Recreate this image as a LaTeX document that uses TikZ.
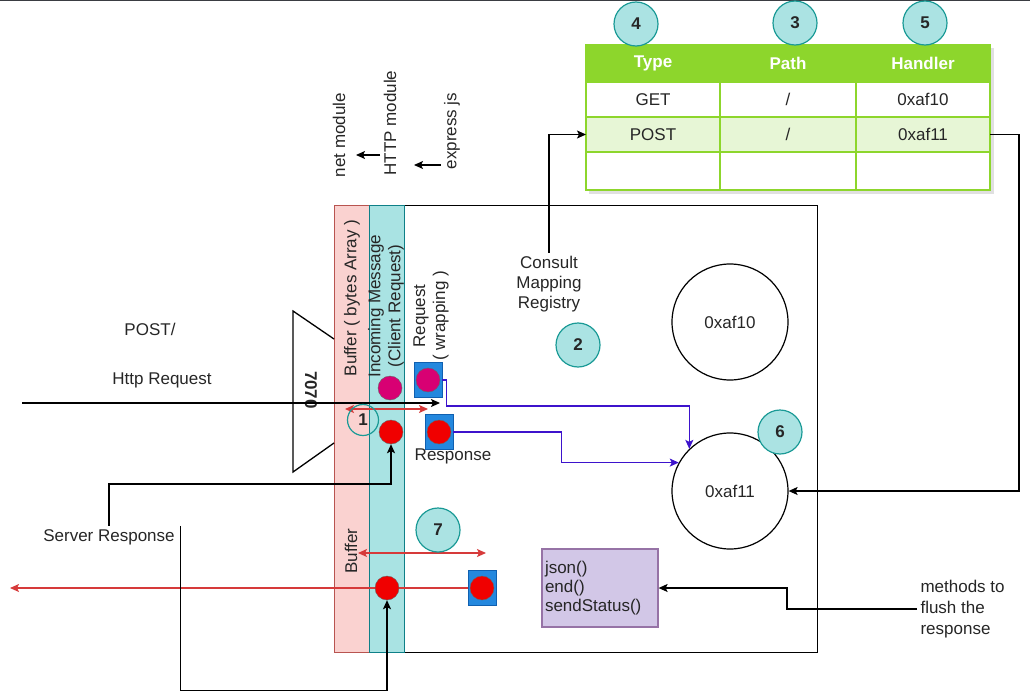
\documentclass[tikz,border=0pt]{standalone}
\usepackage{fontspec}
\setmainfont{Liberation Sans}
\usetikzlibrary{arrows.meta,positioning}

\definecolor{ink}{HTML}{262626}
\definecolor{badgefill}{HTML}{ABE3E3}
\definecolor{badgeline}{HTML}{1A9A96}
\definecolor{bufpink}{HTML}{FAD2D0}
\definecolor{bufred}{HTML}{B85450}
\definecolor{msgcyan}{HTML}{A9E3E3}
\definecolor{msgteal}{HTML}{0E8088}
\definecolor{tabgreen}{HTML}{8DD62C}
\definecolor{tabrow}{HTML}{E7F6D6}
\definecolor{wrapblue}{HTML}{2488DE}
\definecolor{wrapline}{HTML}{1060B0}
\definecolor{dotred}{HTML}{F00000}
\definecolor{dotpink}{HTML}{D80073}
\definecolor{flowpurple}{HTML}{3D13CC}
\definecolor{redline}{HTML}{D63A3A}
\definecolor{methfill}{HTML}{D2C7E7}
\definecolor{methline}{HTML}{9673A6}

\tikzset{
  every node/.style={font=\fontsize{17}{20}\selectfont, text=ink},
  badge/.style={circle, draw=badgeline, fill=badgefill, line width=1.2pt,
    minimum size=44pt, inner sep=0pt, font=\fontsize{17}{20}\selectfont\bfseries},
  cell/.style={draw=tabgreen, fill=white, line width=1.5pt, outer sep=0pt,
    inner sep=0pt, minimum height=35pt},
  headcell/.style={cell, fill=tabgreen, text=white, minimum height=37pt,
    font=\fontsize{17}{20}\selectfont\bfseries},
  buffer/.style={draw=bufred, fill=bufpink, line width=1pt, minimum width=35pt,
    minimum height=447pt, inner sep=0pt, outer sep=0pt},
  message/.style={buffer, draw=msgteal, fill=msgcyan},
  dot/.style={circle, draw=black!60, minimum size=24pt, inner sep=0pt},
  wrapper/.style={draw=wrapline, fill=wrapblue, minimum width=28pt,
    minimum height=35pt, inner sep=0pt},
  flow/.style={draw=black, line width=1.3pt, -{Stealth[length=9pt,width=8pt,inset=2pt]}},
  reqflow/.style={flow, draw=flowpurple},
  outflow/.style={flow, draw=redline},
  span/.style={draw=redline, line width=1.3pt,
    {Stealth[length=9pt,width=8pt,inset=2pt]}-{Stealth[length=9pt,width=8pt,inset=2pt]}},
}

\begin{document}
\begin{tikzpicture}[x=1pt,y=-1pt]
  \useasboundingbox (0,0) rectangle (1030,698);
  \draw[line width=3pt, black!85!cyan] (0,0) -- (1030,0);

  % server process
  \node[draw, line width=1.3pt, anchor=north west, minimum width=413pt,
    minimum height=447pt, inner sep=0pt] (app) at (404,205) {};
  \node[buffer, anchor=north west] (bytes) at (334,205) {};
  \node[message, anchor=north west] (incoming) at (369,205) {};

  \node[rotate=90] (bytestxt) at (352,298) {Buffer ( bytes Array )};
  \node[rotate=90, align=center] (incomingtxt) at (386,306) {Incoming Message\\(Client Request)};
  \node[rotate=90, align=center] (reqtxt) at (431,316) {Request\\( wrapping )};
  \node[rotate=90] (outbuftxt) at (351,551) {Buffer};

  % layers
  \node[rotate=90] (netmod) at (339,135) {net module};
  \node[rotate=90] (httpmod) at (390,123) {HTTP module};
  \node[rotate=90] (expmod) at (452,131) {express js};
  \coordinate (netarr) at (356,155);
  \coordinate (httparr) at (414,165);
  \draw[flow] (netarr -| httpmod.north) -- (netarr);
  \draw[flow] (httparr -| expmod.north) -- (httparr);

  % port
  \draw[line width=1.3pt] (334,339) -- (293,311) -- (293,472) -- (334,443);
  \node[rotate=-90, font=\fontsize{17}{20}\selectfont\bfseries] (port) at (311,390) {7070};

  % routing table
  \fill[black, opacity=0.12] (589,48) rectangle (994,194);
  \node[headcell, minimum width=134pt] (type) at (653,63.5) {Type};
  \node[headcell, minimum width=136pt, right=0pt of type] (path) {Path};
  \node[headcell, minimum width=134pt, right=0pt of path] (handler) {Handler};
  \node[cell, minimum width=134pt, below=0pt of type] (gettype) {GET};
  \node[cell, minimum width=136pt, below=0pt of path] (getpath) {/};
  \node[cell, minimum width=134pt, below=0pt of handler] (gethandler) {0xaf10};
  \node[cell, fill=tabrow, minimum width=134pt, below=0pt of gettype] (posttype) {POST};
  \node[cell, fill=tabrow, minimum width=136pt, below=0pt of getpath] (postpath) {/};
  \node[cell, fill=tabrow, minimum width=134pt, below=0pt of gethandler] (posthandler) {0xaf11};
  \node[cell, minimum width=134pt, minimum height=38pt, below=0pt of posttype] (resttype) {};
  \node[cell, minimum width=136pt, minimum height=38pt, below=0pt of postpath] (restpath) {};
  \node[cell, minimum width=134pt, minimum height=38pt, below=0pt of posthandler] (resthandler) {};

  \node[badge] (n4) at (636,24) {4};
  \node[badge] (n3) at (795,23) {3};
  \node[badge] (n5) at (925,23) {5};

  % handlers
  \node[circle, draw, line width=1.2pt, minimum size=116pt, inner sep=0pt] (af10) at (730,322) {0xaf10};
  \node[circle, draw, line width=1.2pt, minimum size=116pt, inner sep=0pt] (af11) at (730,491) {0xaf11};
  \node[badge] (n6) at (780,432) {6};

  \node[align=center] (consult) at (549,284) {Consult\\Mapping\\Registry};
  \node[badge] (n2) at (578,345) {2};
  \draw[flow] (consult.north) |- (posttype.west);
  \draw[flow] (posthandler.east) -- ++(29,0) |- (af11.east);

  % request side
  \node (verb) at (150,329) {POST/};
  \node (httpreq) at (162,380) {Http Request};
  \coordinate (client) at (22,403);
  \coordinate (reqin) at (440,403);
  \draw[flow] (client) -- (reqin);

  \node[dot, fill=dotpink] (inpink) at (390,388) {};
  \node[dot, fill=dotred] (inred) at (391,432) {};
  \node[wrapper] (reqbox) at (428,380) {};
  \node[dot, fill=dotpink] (reqdot) at (reqbox) {};
  \node[wrapper] (resbox) at (439,432) {};
  \node[dot, fill=dotred] (resdot) at (resbox) {};
  \node (restxt) at (453,456) {Response};

  \coordinate (span1l) at (345,409);
  \coordinate (span1r) at (428,409);
  \draw[span] (span1l) -- (span1r);
  \node[badge, fill=none, minimum size=31pt] (n1) at (363,420) {1};

  \draw[reqflow] (reqbox.east) -- ++(4,0) -- ++(0,26) -| (af11.134);
  \draw[reqflow] (resbox.east) -- ++(108,0) |- (af11.151);

  % response side
  \node (srvtxt) at (109,537) {Server Response};
  \draw[flow] (srvtxt.north) -- (srvtxt.north |- 0,484) -| (inred.south);

  \coordinate (exit) at (10,588);
  \node[wrapper] (outbox) at (482,588) {};
  \draw[outflow] (outbox.west) -- (exit);
  \node[dot, fill=dotred] (outred) at (387,588) {};
  \node[dot, fill=dotred] (outdot) at (outbox) {};
  \draw[flow] ([xshift=2pt]srvtxt.north east) -- ++(0,165) -| (outred.south);

  \coordinate (span7l) at (358,553);
  \coordinate (span7r) at (486,553);
  \draw[span] (span7l) -- (span7r);
  \node[badge] (n7) at (438,530) {7};

  \node[draw=methline, fill=methfill, line width=1.2pt, text width=110pt, inner sep=3pt,
    minimum height=78pt, align=left, font=\fontsize{17}{19}\selectfont] (methods) at (600,588)
    {json()\\end()\\sendStatus()};
  \node[anchor=west, align=left, font=\fontsize{17}{21}\selectfont] (flush) at (917,609)
    {methods to\\flush the\\response};
  \draw[flow] (flush.west) -- ++(-130,0) |- (methods.east);
\end{tikzpicture}
\end{document}
